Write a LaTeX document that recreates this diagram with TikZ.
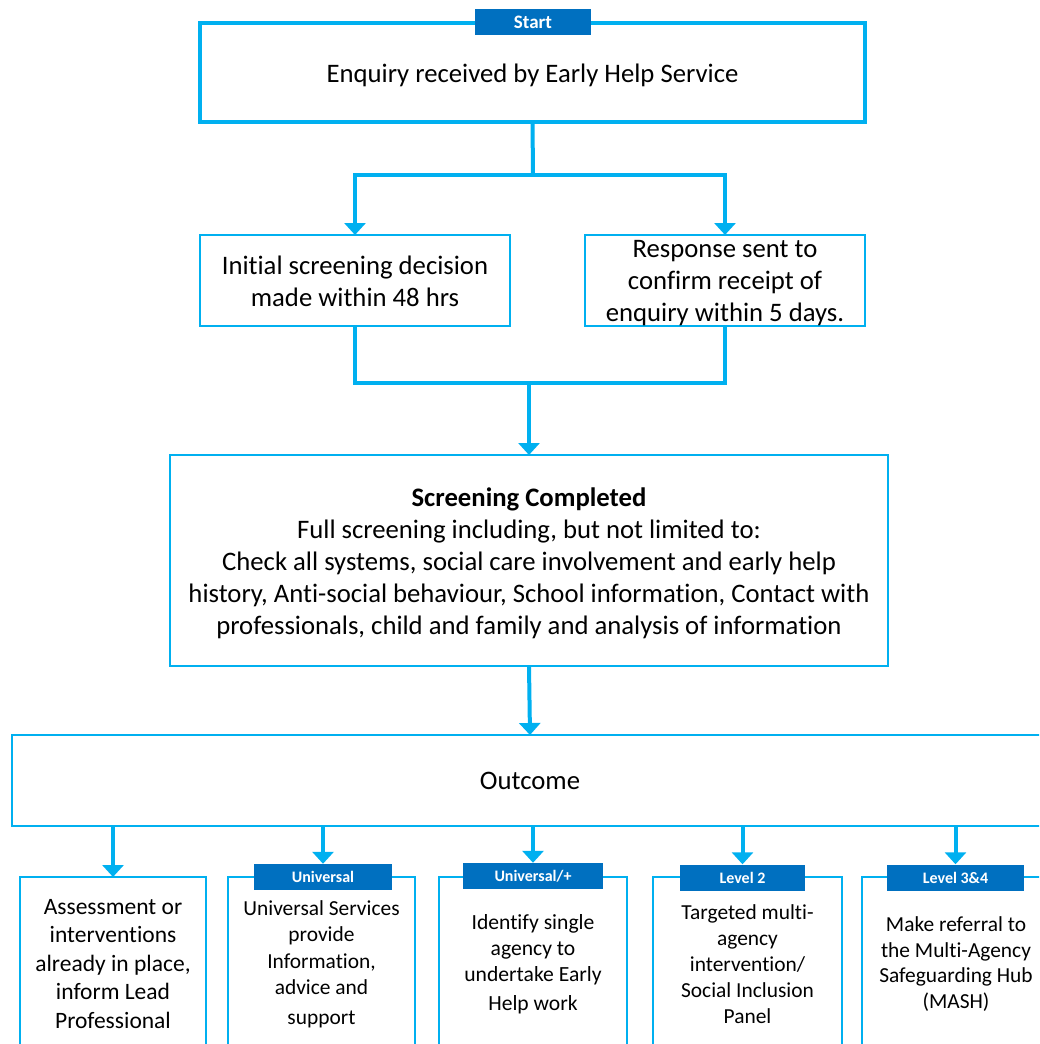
\documentclass[tikz,border=0pt]{standalone}
\usepackage{fontspec}
\setmainfont[Ligatures=NoCommon]{Carlito}
\usetikzlibrary{arrows.meta}
\definecolor{cyanline}{HTML}{00B0F0}
\definecolor{labblue}{HTML}{0070C0}
\begin{document}
\begin{tikzpicture}[x=1pt,y=-1pt,
  thickline/.style={draw=cyanline,line width=4pt},
  arrowline/.style={draw=cyanline,line width=4pt,-{Triangle[width=21pt,length=12pt]}},
  box/.style={draw=cyanline,line width=1.3pt,inner sep=0pt,outer sep=0pt,anchor=center,align=center},
  bigbox/.style={draw=cyanline,line width=4pt,inner sep=0pt,outer sep=0pt,anchor=center,align=center},
  txt/.style={inner sep=0pt,align=center,anchor=center},
  lab/.style={fill=labblue,text=white,font=\bfseries\fontsize{16}{18}\selectfont,inner sep=0pt,minimum height=26pt,anchor=center},
  maintext/.style={font=\fontsize{26.7}{32}\selectfont},
]
\clip (0,0) rectangle (1039,1044);
\fill[white] (0,0) rectangle (1039,1044);

% top
\node[bigbox,minimum width=665pt,minimum height=99pt] (top) at (532.5,72.5) {};
\node[txt,maintext] (toptext) at ([yshift=-3pt]top.center) {Enquiry received by Early Help Service};
\node[lab,minimum width=116pt,font=\bfseries\fontsize{19}{21}\selectfont] (start) at (533,22) {Start};

% second row
\node[box,minimum width=310pt,minimum height=91pt] (s1) at (355,280.5) {};
\node[txt,maintext] (s1text) at ([yshift=-1pt]s1.center) {Initial screening decision\\made within 48 hrs};
\node[box,minimum width=280pt,minimum height=91pt] (s2) at (725,280.5) {};
\node[txt,maintext] (s2text) at ([yshift=-3pt]s2.center) {Response sent to\\confirm receipt of\\enquiry within 5 days.};

\coordinate (j1) at (533,175);
\draw[thickline] (top.south) -- (j1);
\draw[arrowline] (j1) -| (s1.north);
\draw[arrowline] (j1) -| (s2.north);

% screening
\node[box,minimum width=718pt,minimum height=211pt] (scr) at (529,560.5) {};
\node[txt,maintext] (scrtext) at ([yshift=-3pt]scr.center) {\textbf{Screening Completed}\\Full screening including, but not limited to:\\Check all systems, social care involvement and early help\\history, Anti-social behaviour, School information, Contact with\\professionals, child and family and analysis of information};

\coordinate (j2) at (529,383);
\draw[thickline] (s1.south) |- (j2);
\draw[thickline] (s2.south) |- (j2);
\draw[arrowline] (j2) -- (scr.north);

% outcome
\node[box,maintext,minimum width=1036pt,minimum height=91pt] (out) at (530,780.5) {Outcome};
\draw[arrowline] (scr.south) -- (out.north);

% bottom boxes
\node[box,minimum width=186pt,minimum height=174pt,font=\fontsize{23.5}{28.5}\selectfont] (b1) at (113,964) {Assessment or\\interventions\\already in place,\\inform Lead\\Professional};
\node[box,minimum width=187pt,minimum height=174pt,font=\fontsize{21.4}{26.5}\selectfont] (b2) at (321.5,964) {Universal Services\\provide\\Information,\\advice and\\[3pt]support};
\node[box,minimum width=188pt,minimum height=174pt,font=\fontsize{21.6}{26}\selectfont] (b3) at (533,964) {Identify single\\agency to\\undertake Early\\[3pt]Help work};
\node[box,minimum width=189pt,minimum height=174pt,font=\fontsize{21.4}{26}\selectfont] (b4) at (747.5,964) {Targeted multi-\\agency\\intervention/\\Social Inclusion\\Panel};
\node[box,minimum width=188pt,minimum height=174pt,font=\fontsize{21.4}{25.5}\selectfont] (b5) at (956,964) {Make referral to\\the Multi-Agency\\Safeguarding Hub\\(MASH)};

\node[lab,minimum width=138pt] (l2) at (323,877) {Universal};
\node[lab,minimum width=140pt] (l3) at (533,876) {Universal/+};
\node[lab,minimum width=125pt] (l4) at (742.5,877.5) {Level 2};
\node[lab,minimum width=137pt] (l5) at (955.5,877.5) {Level 3\&4};

\draw[arrowline] (out.south -| b1.north) -- (b1.north);
\draw[arrowline] (out.south -| l2.north) -- (l2.north);
\draw[arrowline] (out.south -| l3.north) -- (l3.north);
\draw[arrowline] (out.south -| l4.north) -- (l4.north);
\draw[arrowline] (out.south -| l5.north) -- (l5.north);
\end{tikzpicture}
\end{document}
